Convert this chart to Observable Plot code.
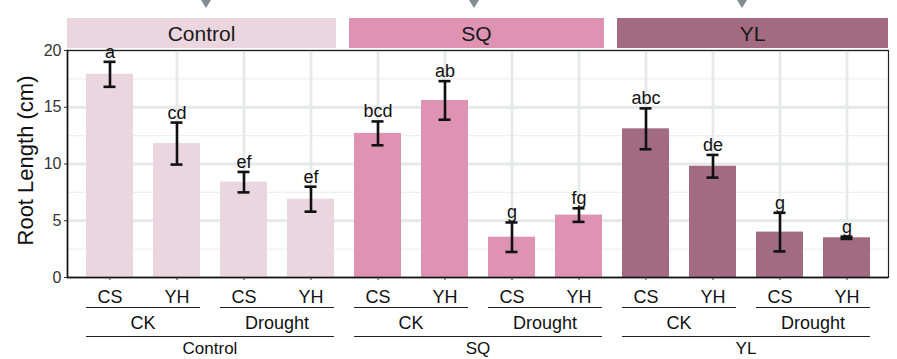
<!DOCTYPE html>
<html><head><meta charset="utf-8">
<script src="https://cdn.jsdelivr.net/npm/d3@7"></script>
<script src="https://cdn.jsdelivr.net/npm/@observablehq/plot@0.6"></script>
<style>
body{margin:0;background:#fff;}
#chart svg{display:block;}
g[aria-label="y-axis tick label"]{fill:#333;}
g[aria-label="x-axis tick label"]{fill:#111;}
</style></head><body><div id="chart"></div>
<script>
const sites = ["Control","SQ","YL"];
const treatments = ["CK","Drought"];
const cultivars = ["CS","YH"];
const means = [17.9, 11.8, 8.4, 6.9, 12.7, 15.6, 3.55, 5.5, 13.1, 9.8, 4.0, 3.5];
const sds = [1.1, 1.85, 0.9, 1.1, 1.05, 1.7, 1.3, 0.6, 1.8, 1.0, 1.7, 0.1];
const letters = ["a","cd","ef","ef","bcd","ab","g","fg","abc","de","g","g"];
const siteColors = ["#ebd5de","#dd93b1","#a36b81"];
const yTicks = [0,5,10,15,20];
const yMinor = [2.5,7.5,12.5,17.5];
const yTitle = "Root Length (cm)";

const data = [];
let i = 0;
for (const s of sites) for (const t of treatments) for (const c of cultivars) {
  data.push({key:`${s}|${t}|${c}`, site:s, treatment:t, cultivar:c, mean:means[i], sd:sds[i], letter:letters[i]});
  i++;
}

const W = 897, H = 359, mL = 67, mR = 9, mT = 50, mB = 82;
const font = "'Liberation Sans', Arial, sans-serif";
const ink = "#111";

const plot = Plot.plot({
  width: W, height: H, marginLeft: mL, marginRight: mR, marginTop: mT, marginBottom: mB,
  style: {fontFamily: font, background: "#fff", overflow: "visible"},
  x: {type: "band", domain: data.map(d => d.key), paddingInner: 0.3, paddingOuter: 0.24},
  y: {domain: [0, 20]},
  color: {domain: sites, range: siteColors},
  marks: [
    Plot.gridY(yMinor, {stroke: "#eef0f0", strokeOpacity: 1, strokeWidth: 1.4}),
    Plot.gridY(yTicks, {stroke: "#e6e9e9", strokeOpacity: 1, strokeWidth: 2.8}),
    Plot.gridX(data.map(d => d.key), {stroke: "#e6e9e9", strokeOpacity: 1, strokeWidth: 2.8}),
    Plot.barY(data, {x: "key", y: "mean", fill: "site"}),
    Plot.ruleX(data, {x: "key", y1: d => d.mean - d.sd, y2: d => d.mean + d.sd, stroke: ink, strokeWidth: 2.6}),
    Plot.tickY(data, {x: "key", y: d => d.mean - d.sd, stroke: ink, strokeWidth: 2.6, insetLeft: 17.5, insetRight: 17.5}),
    Plot.tickY(data, {x: "key", y: d => d.mean + d.sd, stroke: ink, strokeWidth: 2.6, insetLeft: 17.5, insetRight: 17.5}),
    Plot.text(data, {x: "key", y: d => d.mean + d.sd, text: "letter", dy: -4, lineAnchor: "bottom", fontSize: 18, fill: ink}),
    Plot.frame({stroke: "#222", strokeWidth: 1.2}),
    Plot.frame({anchor: "left", stroke: "#111", strokeWidth: 1.6}),
    Plot.ruleY([0], {stroke: "#111", strokeWidth: 1.6}),
    Plot.axisY({ticks: yTicks, tickSize: 3, tickPadding: 3, fontSize: 16, label: null, stroke: "#333"}),
    Plot.axisX({tickSize: 3, tickPadding: 10, fontSize: 18, tickFormat: k => k.split("|")[2], label: null, stroke: "#333"})
  ]
});

document.getElementById("chart").appendChild(plot);

const svg = d3.select(plot);
const xs = plot.scale("x");
const bw = xs.bandwidth;
const start = k => xs.apply(k);
const center = k => xs.apply(k) + bw / 2;
const over = svg.append("g").attr("font-family", font);

sites.forEach((s, si) => {
  const keys = data.filter(d => d.site === s).map(d => d.key);
  const first = keys[0], last = keys[keys.length - 1];
  let left, right;
  if (si === 0) left = mL;
  else {
    const prevKeys = data.filter(d => d.site === sites[si - 1]).map(d => d.key);
    left = (center(prevKeys[prevKeys.length - 1]) + center(first)) / 2 + 5;
  }
  if (si === sites.length - 1) right = W - mR;
  else {
    const nextKeys = data.filter(d => d.site === sites[si + 1]).map(d => d.key);
    right = (center(last) + center(nextKeys[0])) / 2 - 8;
  }
  // strip
  over.append("rect").attr("x", left).attr("y", mT - 32).attr("width", right - left).attr("height", 30)
    .attr("fill", siteColors[si]);
  over.append("text").attr("x", (left + right) / 2).attr("y", mT - 9).attr("text-anchor", "middle")
    .attr("font-size", 21).attr("fill", "#1a1a1a").text(s);
  // triangle marker above strip
  const gc = (center(first) + center(last)) / 2 - 4;
  over.append("path").attr("d", `M${gc - 5},0L${gc + 5},0L${gc},8Z`).attr("fill", "#7f8d91");
  // treatment group lines + labels
  treatments.forEach(t => {
    const tk = keys.filter(k => k.split("|")[1] === t);
    const x1 = start(tk[0]), x2 = start(tk[tk.length - 1]) + bw;
    over.append("line").attr("x1", x1).attr("x2", x2).attr("y1", H - mB + 30.5).attr("y2", H - mB + 30.5)
      .attr("stroke", "#222").attr("stroke-width", 1.2);
    over.append("text").attr("x", (center(tk[0]) + center(tk[tk.length - 1])) / 2).attr("y", H - mB + 52)
      .attr("text-anchor", "middle").attr("font-size", 18).attr("fill", ink).text(t);
  });
  // site line + label
  over.append("line").attr("x1", start(first)).attr("x2", start(last) + bw)
    .attr("y1", H - mB + 59.5).attr("y2", H - mB + 59.5).attr("stroke", "#222").attr("stroke-width", 1.2);
  over.append("text").attr("x", (center(first) + center(last)) / 2).attr("y", H - mB + 77)
    .attr("text-anchor", "middle").attr("font-size", 17).attr("fill", ink).text(s);
});

// y-axis title
over.append("text").attr("transform", `translate(33,${(mT + H - mB) / 2 - 3}) rotate(-90)`)
  .attr("text-anchor", "middle").attr("font-size", 22).attr("fill", ink).text(yTitle);
</script>
</body></html>
